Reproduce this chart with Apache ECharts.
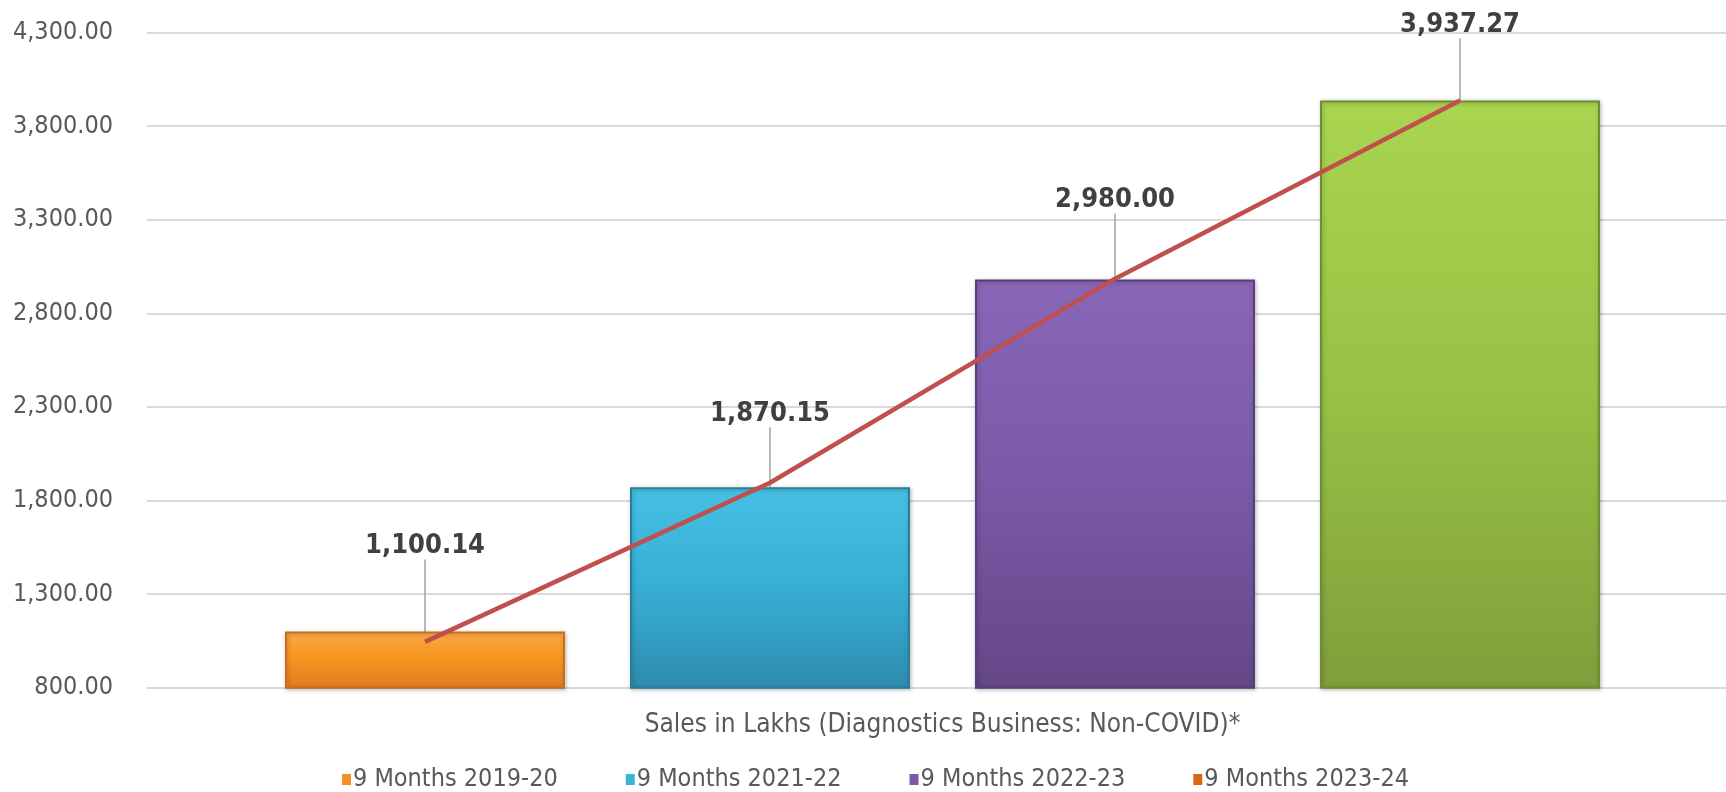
<!DOCTYPE html>
<html>
<head>
<meta charset="utf-8">
<script src="https://cdn.jsdelivr.net/npm/echarts@6/dist/echarts.min.js"></script>
<style>
html,body{margin:0;padding:0;background:#fff;}
#chart{width:1726px;height:792px;}
</style>
</head>
<body>
<div id="chart"></div>
<script>
const categories = ['9 Months 2019-20', '9 Months 2021-22', '9 Months 2022-23', '9 Months 2023-24'];
const salesValues = [1100.14, 1870.15, 2980.00, 3937.27];
const trendValues = [1045, 1895, 2985, 3937];
const axisName = 'Sales in Lakhs (Diagnostics Business: Non-COVID)*';
const yMin = 800, yMax = 4300, yInterval = 500;

const FONT = '"DejaVu Sans Condensed", "Liberation Sans", sans-serif';
const barStyles = [
  {top: '#FBA843', mid: '#F7931F', bot: '#E27C22', border: '#C96E1E'},
  {top: '#45C0E4', mid: '#38AED5', bot: '#2C8CAD', border: '#2B7D99'},
  {top: '#8966B8', mid: '#7A5AA6', bot: '#654788', border: '#56407A'},
  {top: '#A9D54F', mid: '#98C145', bot: '#7E9F3B', border: '#6F8C35'}
];
const labelDy = [-67, -55, -61, -57];
const legendColors = ['#F39224', '#3AB3DA', '#7A5AA6', '#D9681A'];

function fmt(v) {
  return Number(v).toLocaleString('en-US', {minimumFractionDigits: 2, maximumFractionDigits: 2});
}

const chart = echarts.init(document.getElementById('chart'), null, {renderer: 'canvas'});

const barSeries = categories.map((name, i) => ({
  type: 'bar',
  name: name,
  xAxisIndex: 1,
  yAxisIndex: 1,
  barWidth: 280,
  barGap: '-100%',
  data: salesValues.map((v, j) => (j === i ? v : '-')),
  itemStyle: {
    color: new echarts.graphic.LinearGradient(0, 0, 0, 1, [
      {offset: 0, color: barStyles[i].top},
      {offset: 0.5, color: barStyles[i].mid},
      {offset: 1, color: barStyles[i].bot}
    ]),
    borderColor: barStyles[i].border,
    borderWidth: 2,
    shadowColor: 'rgba(0,0,0,0.25)',
    shadowBlur: 4,
    shadowOffsetX: 1,
    shadowOffsetY: 1
  },
  label: {
    show: true,
    position: 'top',
    formatter: p => fmt(p.value),
    fontFamily: FONT,
    fontWeight: 'bold',
    fontSize: 27,
    color: '#404040'
  },
  labelLayout: {dy: labelDy[i]},
  labelLine: {show: true, lineStyle: {color: '#8C8C8C', width: 1.2}},
  emphasis: {disabled: true}
}));

const option = {
  animation: false,
  backgroundColor: '#ffffff',
  textStyle: {fontFamily: FONT},
  grid: [
    {left: 147, right: 0, top: 32.5, bottom: 104.3, containLabel: false},
    {left: 252.5, width: 1380, top: 32.5, bottom: 104.3, containLabel: false}
  ],
  xAxis: [
    {gridIndex: 0, type: 'category', data: [''], show: false},
    {
      gridIndex: 1, type: 'category', data: categories,
      axisLine: {show: false}, axisTick: {show: false}, axisLabel: {show: false},
      name: axisName, nameLocation: 'middle', nameGap: 25,
      nameTextStyle: {fontFamily: FONT, fontSize: 26, color: '#595959'}
    }
  ],
  yAxis: [
    {
      gridIndex: 0, type: 'value', min: yMin, max: yMax, interval: yInterval,
      axisLine: {show: false}, axisTick: {show: false},
      axisLabel: {formatter: v => fmt(v), fontFamily: FONT, fontSize: 25, color: '#595959', margin: 34},
      splitLine: {lineStyle: {color: '#D9D9D9', width: 2}}
    },
    {gridIndex: 1, type: 'value', min: yMin, max: yMax, interval: yInterval, show: false, splitLine: {show: false}}
  ],
  legend: {
    left: 337,
    top: 762,
    itemWidth: 9,
    itemHeight: 11,
    itemGap: 68,
    icon: 'rect',
    textStyle: {fontFamily: FONT, fontSize: 25, color: '#595959', padding: [0, 0, 0, -3]},
    data: categories.map((name, i) => ({name: name, itemStyle: {color: legendColors[i], borderWidth: 0, shadowBlur: 0}}))
  },
  series: barSeries.concat([{
    type: 'line',
    name: 'trend',
    xAxisIndex: 1,
    yAxisIndex: 1,
    data: trendValues,
    symbol: 'none',
    lineStyle: {color: '#C0504D', width: 4.5},
    z: 5,
    emphasis: {disabled: true}
  }])
};
chart.setOption(option);
</script>
</body>
</html>
